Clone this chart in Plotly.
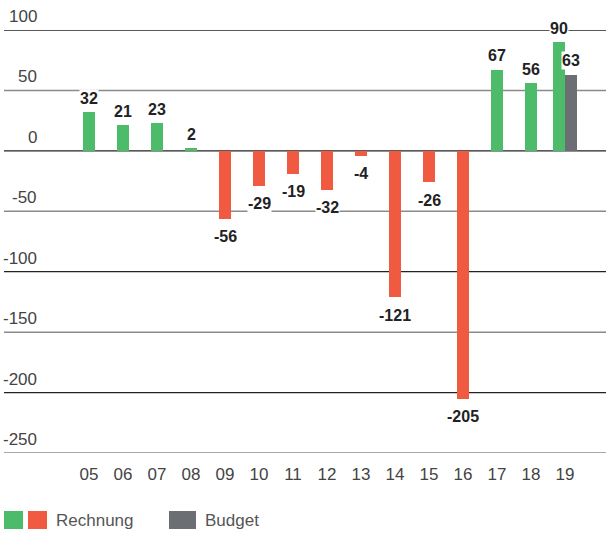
import plotly.graph_objects as go

years = ["05", "06", "07", "08", "09", "10", "11", "12", "13", "14", "15", "16", "17", "18", "19"]
rechnung = [32, 21, 23, 2, -56, -29, -19, -32, -4, -121, -26, -205, 67, 56, 90]
budget_years = ["19"]
budget = [63]
y_ticks = [100, 50, 0, -50, -100, -150, -200, -250]

GREEN = "#4cbb6a"
RED = "#f05a40"
GREY = "#6b6e72"
TXT = "#444444"

W, H = 606, 534
ML, MR, MT, MB = 4, 0, 30, 81
PW = W - ML - MR
PH = H - MT - MB

BW = 0.35
colors = [GREEN if v >= 0 else RED for v in rechnung]
offsets = [-BW if y in budget_years else -BW / 2 for y in years]

fig = go.Figure()
fig.add_trace(go.Bar(x=years, y=rechnung, marker=dict(color=colors, line=dict(width=0)),
                     width=BW, offset=offsets, name="Rechnung", showlegend=False))
fig.add_trace(go.Bar(x=budget_years, y=budget, marker=dict(color=GREY, line=dict(width=0)),
                     width=BW, offset=0, name="Budget", showlegend=False))

shapes = []
for i, t in enumerate(y_ticks):
    dark = (i % 2 == 0)
    shapes.append(dict(type="line", xref="paper", yref="y", x0=0, x1=1, y0=t, y1=t,
                       line=dict(color="#222222" if dark else "#8a8a8a", width=1.3 if dark else 1.5),
                       layer="below"))

annotations = []
for t in y_ticks:
    annotations.append(dict(xref="paper", yref="y", x=(39 - ML) / PW, y=t, xanchor="right",
                            yanchor="bottom", yshift=2, text=str(t), showarrow=False,
                            font=dict(family="Liberation Sans, Arial", size=17, color=TXT)))

LBL = dict(family="Liberation Sans, Arial", size=16, color="#222222", weight="bold")
for i, (yr, v) in enumerate(zip(years, rechnung)):
    xs = -BW / 2 if yr in budget_years else 0
    annotations.append(dict(x=i + xs, y=v, xref="x", yref="y", text=str(v), showarrow=False,
                            xanchor="center", yanchor="middle", yshift=14 if v >= 0 else -18,
                            bgcolor="white", borderpad=0, font=LBL))
for yr, v in zip(budget_years, budget):
    i = years.index(yr)
    annotations.append(dict(x=i + BW / 2, y=v, xref="x", yref="y", text=str(v), showarrow=False,
                            xanchor="center", yanchor="middle", yshift=14,
                            bgcolor="white", borderpad=0, font=LBL))

# legend
def px_x(p):
    return (p - ML) / PW

def px_y(p):
    return (MT + PH - p) / PH

for x0, x1, c in [(4, 23, GREEN), (28, 47, RED), (169, 196, GREY)]:
    shapes.append(dict(type="rect", xref="paper", yref="paper", x0=px_x(x0), x1=px_x(x1),
                       y0=px_y(529), y1=px_y(511), fillcolor=c, line=dict(width=0)))
for x, txt in [(54, "Rechnung"), (203, "Budget")]:
    annotations.append(dict(xref="paper", yref="paper", x=px_x(x), y=px_y(520), xanchor="left",
                            yanchor="middle", text=txt, showarrow=False,
                            font=dict(family="Liberation Sans, Arial", size=17, color="#555555")))

fig.update_layout(
    width=W, height=H, margin=dict(l=ML, r=MR, t=MT, b=MB),
    paper_bgcolor="white", plot_bgcolor="white",
    barmode="overlay", bargap=0,
    shapes=shapes, annotations=annotations,
    xaxis=dict(type="category", range=[-2.5, (PW / 34) - 2.5], showgrid=False, zeroline=False,
               showline=False, ticks="", ticklabelstandoff=9,
               tickfont=dict(family="Liberation Sans, Arial", size=17, color=TXT)),
    yaxis=dict(range=[-250, 100], showgrid=False, zeroline=False, showticklabels=False, showline=False),
    showlegend=False,
)
fig.update_traces(cliponaxis=False)
fig.write_html("out.html")
